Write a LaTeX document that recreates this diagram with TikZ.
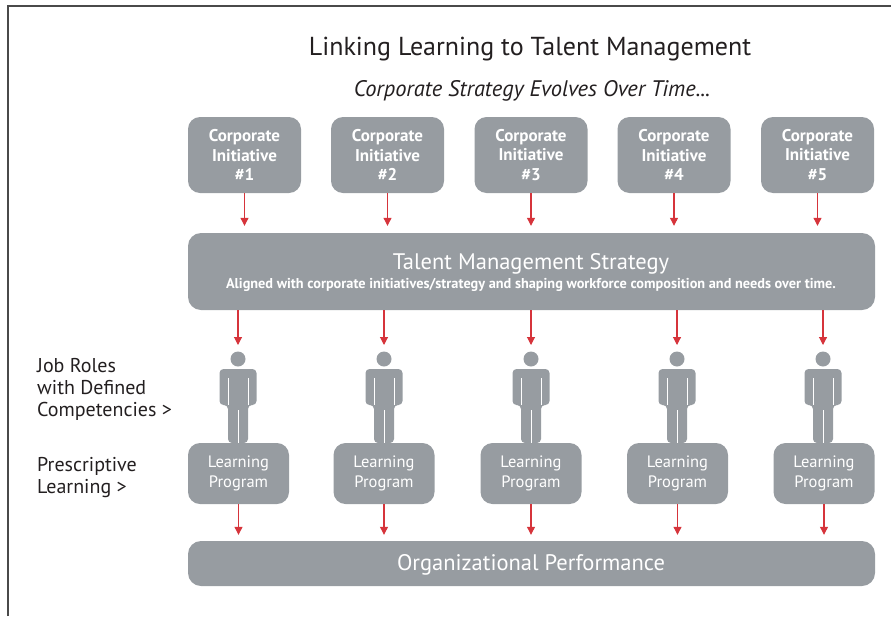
\documentclass[tikz,border=0pt]{standalone}
\usepackage{fontspec}
\setmainfont{PT Sans}
\usetikzlibrary{arrows.meta}
\definecolor{boxgray}{HTML}{979CA1}
\definecolor{arrowred}{HTML}{D6343B}
\definecolor{textdark}{HTML}{231F20}
\definecolor{framegray}{HTML}{4A4A4A}

\begin{document}
\begin{tikzpicture}[x=1pt, y=-1pt,
  initbox/.style={fill=boxgray, rounded corners=12pt, minimum width=113pt, minimum height=76pt,
    inner sep=0pt, text=white, align=center, font=\bfseries\fontsize{17}{19.5}\selectfont},
  widebox/.style={fill=boxgray, rounded corners=13pt, minimum width=687pt, inner sep=0pt},
  learnbox/.style={fill=boxgray, rounded corners=12pt, minimum width=101pt, minimum height=61pt,
    inner sep=0pt, text=white, align=center, font=\fontsize{16.5}{20}\selectfont},
  sidelabel/.style={text=textdark, align=left, inner sep=0pt, font=\fontsize{20}{22}\selectfont},
  flow/.style={draw=arrowred, line width=1.1pt, -{Triangle[length=8pt,width=8pt]}},
  person/.pic={
    \fill[boxgray] (0,359) circle (7.5pt);
    \fill[boxgray, rounded corners=4pt] (-18.5,405) -- (-18.5,369) -- (18.5,369) -- (18.5,405)
      -- (10,405) -- (10,443) -- (-10,443) -- (-10,405) -- cycle;
    \draw[white, line width=0.7pt] (-10,378) -- (-10,405) (10,378) -- (10,405) (0,410) -- (0,443);
    \coordinate (-top) at (0,345);
  }]
\useasboundingbox (0,0) rectangle (891,616);
\draw[framegray, line width=1.5pt] (8,616) -- (8,6) -- (891,6);

\node[text=textdark, font=\fontsize{26}{30}\selectfont] (title) at (530,49) {Linking Learning to Talent Management};
\node[text=textdark, font=\itshape\fontsize{22.5}{26}\selectfont] (subtitle) at (532,91) {Corporate Strategy Evolves Over Time...};

\node[initbox] (ci1) at (244.5,155) {Corporate\\Initiative\\\#1};
\node[initbox] (ci2) at (387.5,155) {Corporate\\Initiative\\\#2};
\node[initbox] (ci3) at (531,155) {Corporate\\Initiative\\\#3};
\node[initbox] (ci4) at (674,155) {Corporate\\Initiative\\\#4};
\node[initbox] (ci5) at (817.5,155) {Corporate\\Initiative\\\#5};

\node[widebox, minimum height=77pt] (tms) at (531.5,271.5) {};
\node[text=white, font=\fontsize{22.5}{26}\selectfont] (tmstitle) at (531,263.5) {Talent Management Strategy};
\node[text=white, font=\bfseries\fontsize{14.3}{16}\selectfont] (tmsnote) at (531,285) {Aligned with corporate initiatives/strategy and shaping workforce composition and needs over time.};

\draw[flow, shorten >=7pt] (ci1.south) -- (ci1.south |- tms.north);
\draw[flow, shorten >=7pt] (ci2.south) -- (ci2.south |- tms.north);
\draw[flow, shorten >=7pt] (ci3.south) -- (ci3.south |- tms.north);
\draw[flow, shorten >=7pt] (ci4.south) -- (ci4.south |- tms.north);
\draw[flow, shorten >=7pt] (ci5.south) -- (ci5.south |- tms.north);

\pic (p1) at (238,0) {person};
\pic (p2) at (384,0) {person};
\pic (p3) at (531,0) {person};
\pic (p4) at (677,0) {person};
\pic (p5) at (823,0) {person};

\draw[flow] (tms.south -| p1-top) -- (p1-top);
\draw[flow] (tms.south -| p2-top) -- (p2-top);
\draw[flow] (tms.south -| p3-top) -- (p3-top);
\draw[flow] (tms.south -| p4-top) -- (p4-top);
\draw[flow] (tms.south -| p5-top) -- (p5-top);

\node[learnbox] (lp1) at (238.5,473.5) {Learning\\Program};
\node[learnbox] (lp2) at (384,473.5) {Learning\\Program};
\node[learnbox] (lp3) at (531,473.5) {Learning\\Program};
\node[learnbox] (lp4) at (677.5,473.5) {Learning\\Program};
\node[learnbox] (lp5) at (824,473.5) {Learning\\Program};

\node[widebox, minimum height=45pt] (org) at (531.5,563.5) {};
\node[text=white, font=\fontsize{22.5}{26}\selectfont] (orgtext) at (531,565) {Organizational Performance};

\draw[flow, shorten >=6pt] (lp1.south) -- (lp1.south |- org.north);
\draw[flow, shorten >=6pt] (lp2.south) -- (lp2.south |- org.north);
\draw[flow, shorten >=6pt] (lp3.south) -- (lp3.south |- org.north);
\draw[flow, shorten >=6pt] (lp4.south) -- (lp4.south |- org.north);
\draw[flow, shorten >=6pt] (lp5.south) -- (lp5.south |- org.north);

\node[sidelabel, anchor=north west] (jobroles) at (37,358) {Job Roles\\with Defined\\Competencies >};
\node[sidelabel, anchor=north west] (prescriptive) at (37,457) {Prescriptive\\Learning >};
\end{tikzpicture}
\end{document}
